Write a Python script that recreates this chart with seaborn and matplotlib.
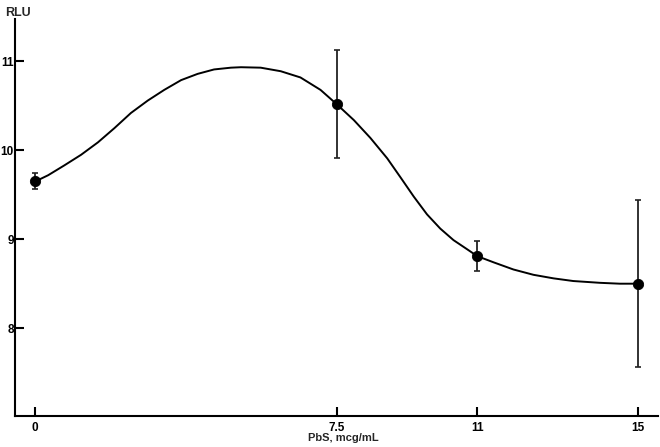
import numpy as np
import pandas as pd
import matplotlib
matplotlib.use("Agg")
import matplotlib.pyplot as plt
import seaborn as sns

# measured points (mean +/- error)
conc = [0, 7.5, 11, 15]
rlu = [9.65, 10.52, 8.81, 8.50]
rlu_err = [0.09, 0.61, 0.17, 0.94]

# fitted curve
curve_x = [0, 0.32, 0.72, 1.14, 1.56, 1.97, 2.38, 2.80, 3.21, 3.63, 4.04,
           4.45, 4.87, 5.12, 5.61, 6.11, 6.60, 7.10, 7.5, 7.93, 8.34, 8.76,
           9.1, 9.42, 9.75, 10.08, 10.41, 10.74, 11.0, 11.41, 11.9, 12.4,
           12.9, 13.39, 14.05, 14.55, 15]
curve_y = [9.65, 9.72, 9.83, 9.95, 10.09, 10.25, 10.42, 10.56, 10.68, 10.79,
           10.86, 10.91, 10.93, 10.935, 10.93, 10.89, 10.82, 10.68, 10.52,
           10.34, 10.14, 9.91, 9.69, 9.48, 9.28, 9.12, 8.99, 8.89, 8.81,
           8.74, 8.66, 8.60, 8.56, 8.53, 8.51, 8.50, 8.50]

x_ticks = [0, 7.5, 11, 15]
x_ticklabels = ["0", "7.5", "11", "15"]
y_ticks = [8, 9, 10, 11]

sns.set_style("ticks")
plt.rcParams["font.family"] = ["Liberation Sans", "DejaVu Sans"]
plt.rcParams["font.weight"] = "bold"

df_pts = pd.DataFrame({"conc": conc, "rlu": rlu})
df_curve = pd.DataFrame({"x": curve_x, "y": curve_y})

fig = plt.figure(figsize=(6.6, 4.47), dpi=100)
ax = fig.add_axes([0.023, 0.069, 0.974, 0.889])

sns.lineplot(data=df_curve, x="x", y="y", color="black", linewidth=1.4,
             ax=ax, sort=False)
ax.errorbar(conc, rlu, yerr=rlu_err, fmt="none", ecolor="#222222",
            elinewidth=1.3, capsize=2, capthick=1.2)
sns.scatterplot(data=df_pts, x="conc", y="rlu", color="black", s=55,
                edgecolor="black", zorder=5, ax=ax)

ax.set_xlim(-0.5, 15.5)
ax.set_ylim(7.01, 11.48)
ax.set_xticks(x_ticks)
ax.set_xticklabels(x_ticklabels)
ax.set_yticks(y_ticks)
ax.tick_params(direction="in", length=6.5, width=1.5, labelsize=8.5,
               colors="black")
ax.tick_params(axis="x", pad=4)
ax.tick_params(axis="y", pad=1)
for lab in ax.get_xticklabels() + ax.get_yticklabels():
    lab.set_fontweight("bold")

for side in ["top", "right"]:
    ax.spines[side].set_visible(False)
for side in ["left", "bottom"]:
    ax.spines[side].set_linewidth(1.5)
    ax.spines[side].set_color("black")

ax.set_xlabel("PbS, mcg/mL", fontsize=8, fontweight="bold")
ax.xaxis.set_label_coords(0.51, -0.043)
ax.set_ylabel("")
fig.text(0.008, 0.985, "RLU", fontsize=9, fontweight="bold", va="top",
         ha="left")

fig.savefig("out.png", dpi=100)
